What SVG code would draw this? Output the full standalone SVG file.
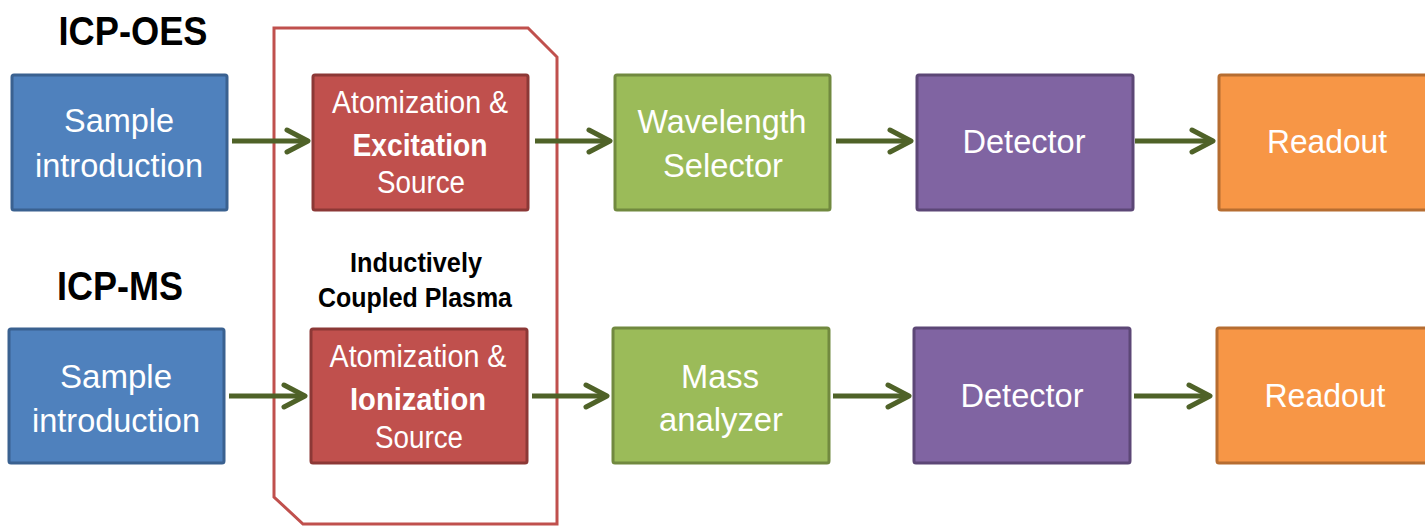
<svg xmlns="http://www.w3.org/2000/svg" width="1425" height="526" viewBox="0 0 1425 526">
<defs>
<style>
.box{stroke-width:3}
.blue{fill:#4f81bd;stroke:#3a6190}
.red{fill:#c0504d;stroke:#8c3836}
.green{fill:#9bbb59;stroke:#71893f}
.purple{fill:#8064a2;stroke:#5c4776}
.orange{fill:#f79646;stroke:#b66d31}
.t{font-family:"Liberation Sans",Arial,sans-serif;fill:#fff;font-size:34px;text-anchor:middle}
.ts{font-family:"Liberation Sans",Arial,sans-serif;fill:#fff;font-size:31px;text-anchor:middle}
.b{font-weight:bold}
.h{font-family:"Liberation Sans",Arial,sans-serif;fill:#000;font-weight:bold;text-anchor:middle}
.arrow{stroke:#4f6228;stroke-width:5;fill:none;marker-end:url(#chev)}
.frame{fill:none;stroke:#c0504d;stroke-width:3}
</style>
<marker id="chev" viewBox="-26 -15 30 30" markerWidth="30" markerHeight="30" refX="0" refY="0" markerUnits="userSpaceOnUse" orient="auto" overflow="visible">
<path d="M-21,-11 L0,0 L-21,11" fill="none" stroke="#4f6228" stroke-width="5" stroke-linecap="round" stroke-linejoin="round"/>
</marker>
</defs>
<rect width="1425" height="526" fill="#fff"/>

<g id="frame">
<path class="frame" d="M274,28 L528,28 L557,57 L557,524 L303,524 L274,497 Z"/>
</g>

<g id="label-oes"><text class="h" x="133" y="45" font-size="41" textLength="149" lengthAdjust="spacingAndGlyphs">ICP-OES</text></g>
<g id="label-ms"><text class="h" x="120" y="300" font-size="41" textLength="126" lengthAdjust="spacingAndGlyphs">ICP-MS</text></g>
<g id="label-icp">
<text class="h" x="416" y="272" font-size="27" textLength="132" lengthAdjust="spacingAndGlyphs">Inductively</text>
<text class="h" x="415" y="307" font-size="27" textLength="194" lengthAdjust="spacingAndGlyphs">Coupled Plasma</text>
</g>

<g id="connectors">
<line class="arrow" x1="232" y1="141" x2="308" y2="141"/>
<line class="arrow" x1="535" y1="141" x2="610" y2="141"/>
<line class="arrow" x1="836" y1="141" x2="911" y2="141"/>
<line class="arrow" x1="1135" y1="141" x2="1213" y2="141"/>
<line class="arrow" x1="229" y1="396" x2="305" y2="396"/>
<line class="arrow" x1="532" y1="396" x2="607" y2="396"/>
<line class="arrow" x1="833" y1="396" x2="909" y2="396"/>
<line class="arrow" x1="1134" y1="396" x2="1210" y2="396"/>
</g>

<g id="oes-sample">
<rect class="box blue" x="12" y="75" width="215" height="135" rx="2"/>
<text class="t" x="119" y="132" textLength="110" lengthAdjust="spacingAndGlyphs">Sample</text>
<text class="t" x="119" y="177" textLength="168" lengthAdjust="spacingAndGlyphs">introduction</text>
</g>
<g id="oes-source">
<rect class="box red" x="313" y="75" width="215" height="135" rx="2"/>
<text class="ts" x="420" y="113" textLength="176" lengthAdjust="spacingAndGlyphs">Atomization &amp;</text>
<text class="ts b" x="420" y="156" textLength="135" lengthAdjust="spacingAndGlyphs">Excitation</text>
<text class="ts" x="421" y="193" textLength="88" lengthAdjust="spacingAndGlyphs">Source</text>
</g>
<g id="oes-wavelength">
<rect class="box green" x="615" y="75" width="215" height="135" rx="2"/>
<text class="t" x="722" y="133" textLength="169" lengthAdjust="spacingAndGlyphs">Wavelength</text>
<text class="t" x="723" y="177" textLength="120" lengthAdjust="spacingAndGlyphs">Selector</text>
</g>
<g id="oes-detector">
<rect class="box purple" x="917" y="75" width="216" height="135" rx="2"/>
<text class="t" x="1024" y="153" textLength="123" lengthAdjust="spacingAndGlyphs">Detector</text>
</g>
<g id="oes-readout">
<rect class="box orange" x="1219" y="75" width="216" height="135" rx="2"/>
<text class="t" x="1327" y="153" textLength="120" lengthAdjust="spacingAndGlyphs">Readout</text>
</g>

<g id="ms-sample">
<rect class="box blue" x="9" y="329" width="215" height="134" rx="2"/>
<text class="t" x="116" y="388" textLength="112" lengthAdjust="spacingAndGlyphs">Sample</text>
<text class="t" x="116" y="432" textLength="168" lengthAdjust="spacingAndGlyphs">introduction</text>
</g>
<g id="ms-source">
<rect class="box red" x="311" y="329" width="216" height="134" rx="2"/>
<text class="ts" x="418" y="367" textLength="177" lengthAdjust="spacingAndGlyphs">Atomization &amp;</text>
<text class="ts b" x="418" y="410" textLength="136" lengthAdjust="spacingAndGlyphs">Ionization</text>
<text class="ts" x="419" y="448" textLength="88" lengthAdjust="spacingAndGlyphs">Source</text>
</g>
<g id="ms-mass">
<rect class="box green" x="613" y="328" width="216" height="135" rx="2"/>
<text class="t" x="720" y="388" textLength="78" lengthAdjust="spacingAndGlyphs">Mass</text>
<text class="t" x="721" y="431" textLength="124" lengthAdjust="spacingAndGlyphs">analyzer</text>
</g>
<g id="ms-detector">
<rect class="box purple" x="914" y="328" width="216" height="135" rx="2"/>
<text class="t" x="1022" y="407" textLength="123" lengthAdjust="spacingAndGlyphs">Detector</text>
</g>
<g id="ms-readout">
<rect class="box orange" x="1217" y="328" width="216" height="135" rx="2"/>
<text class="t" x="1325" y="407" textLength="121" lengthAdjust="spacingAndGlyphs">Readout</text>
</g>
</svg>
